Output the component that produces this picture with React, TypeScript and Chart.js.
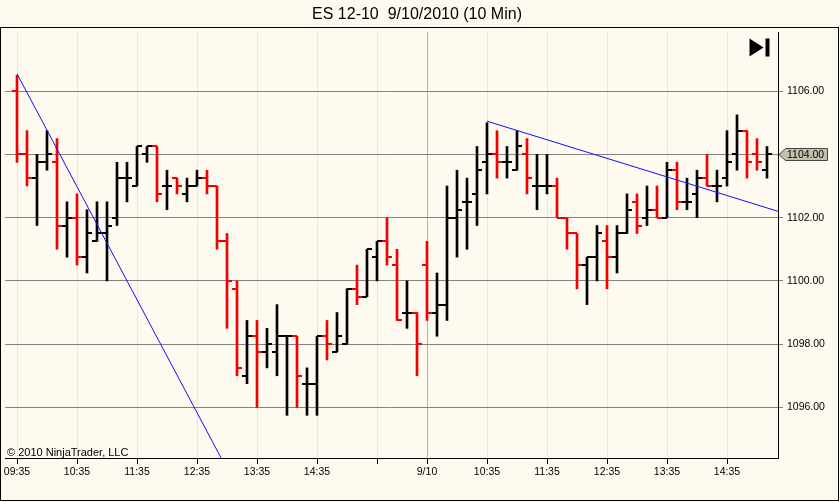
import Chart from 'chart.js/auto';
import { useEffect, useRef } from 'react';

// ES 12-10, 10 minute bars, 9/9 and 9/10/2010
const opens = [
  1106, 1104, 1103.25, 1103.75, 1103.75, 1101.75, 1102, 1100.75, 1101.25, 1101.5,
  1102, 1103.25, 1103, 1104, 1104.25, 1103, 1103.25, 1102.75, 1103, 1103.25,
  1103, 1101.25, 1099.75, 1097, 1098.25, 1097.75, 1097.75, 1098.25, 1098.25, 1096.75,
  1096.75, 1098.25, 1097.75, 1098, 1099.75, 1099.5, 1100.75, 1101.25, 1100.5, 1099,
  1099, 1100.5, 1099, 1099.25, 1102, 1102.5, 1102.75, 1103.75, 1104, 1103.75,
  1103.5, 1104, 1103, 1103, 1103, 1102, 1101.5, 1100.5, 1100.75, 1101.25,
  1100.75, 1101.5, 1102.5, 1102, 1102.25, 1102, 1103.5, 1102.5, 1102.75, 1103.25,
  1103, 1103.25, 1104, 1104.75, 1104, 1103.5,
];
const highs = [
  1106.5, 1104.75, 1104, 1104.75, 1104.5, 1102.5, 1102.75, 1102.25, 1102.5, 1102.5,
  1103.75, 1103.75, 1104.25, 1104.25, 1104.25, 1103.5, 1103.25, 1103.25, 1103.5, 1103.5,
  1103, 1101.5, 1100, 1098.75, 1098.75, 1098.5, 1099.25, 1098.25, 1098.25, 1097.25,
  1098.25, 1098.75, 1099, 1099.75, 1100.5, 1101, 1101.25, 1102, 1101, 1100,
  1099, 1101.25, 1100.25, 1103, 1103.5, 1103.25, 1104.25, 1105, 1104.75, 1104.25,
  1104.75, 1104.5, 1104, 1104, 1103.25, 1102, 1101.5, 1100.75, 1101.75, 1101.75,
  1101.75, 1102.75, 1102.75, 1103, 1103, 1103.75, 1103.75, 1103.25, 1103.5, 1104,
  1103.5, 1104.75, 1105.25, 1104.75, 1104.5, 1104.25,
];
const lows = [
  1103.75, 1103, 1101.75, 1103.5, 1101, 1100.75, 1100.5, 1100.25, 1101.25, 1100,
  1101.75, 1102.5, 1103, 1103.75, 1102.5, 1102.25, 1102.75, 1102.5, 1103, 1102.75,
  1101, 1098.5, 1097, 1096.75, 1096, 1097.25, 1097, 1095.75, 1096, 1095.75,
  1095.75, 1097.5, 1097.75, 1098, 1099.25, 1099.5, 1100, 1100.5, 1098.75, 1098.5,
  1097, 1098.75, 1098.25, 1098.75, 1100.75, 1101, 1101.75, 1102.75, 1103.25, 1103.25,
  1103.5, 1102.75, 1102.25, 1102.75, 1102, 1101, 1099.75, 1099.25, 1100, 1099.75,
  1100.25, 1101.5, 1101.5, 1101.75, 1102, 1102, 1102.25, 1102.25, 1102, 1103,
  1102.5, 1103, 1103.5, 1103.25, 1103.5, 1103.25,
];
const closes = [
  1104, 1103.25, 1103.75, 1104, 1101.75, 1102, 1100.75, 1101.5, 1101.5, 1101.75,
  1103.25, 1103.25, 1104.25, 1104.25, 1102.75, 1103, 1103, 1103, 1103.25, 1103,
  1101.25, 1100, 1097.25, 1098.25, 1097.75, 1098, 1098.25, 1098.25, 1097, 1096.75,
  1098.25, 1098, 1098.25, 1099.75, 1099.5, 1101, 1101.25, 1100.75, 1098.75, 1099,
  1098, 1099, 1099.25, 1102, 1102.25, 1102.5, 1103.5, 1104, 1103.75, 1103.75,
  1104.25, 1103.25, 1103, 1103, 1102, 1101.5, 1100.5, 1100.75, 1101.5, 1100.75,
  1101.5, 1102.25, 1101.75, 1102.25, 1102, 1103.5, 1102.5, 1102.5, 1103.25, 1103,
  1103, 1103.75, 1104.75, 1103.75, 1103.75, 1104,
];

const tickIndices = [0, 6, 12, 18, 24, 30, 36, 41, 47, 53, 59, 65, 71];
const tickLabels = ['09:35', '10:35', '11:35', '12:35', '13:35', '14:35', '', '9/10', '10:35', '11:35', '12:35', '13:35', '14:35'];
const priceTicks = [1096, 1098, 1100, 1102, 1104, 1106];
const sessionBreak = 41;

// drawn trend lines, anchors as [bar index, price]
const trendLineA = [{ x: 0, y: 1106.55 }, { x: 21, y: 1094.05 }];
const trendLineB = [{ x: 47, y: 1105.05 }, { x: 76.1, y: 1102.2 }];

const BG = '#fffaf0';
const UP = '#000000';
const DOWN = '#f00000';
const FONT = '"Liberation Sans", Arial, sans-serif';

function makeTick(color: string, side: 'left' | 'right') {
  const c = document.createElement('canvas');
  c.width = 10;
  c.height = 2;
  const g = c.getContext('2d')!;
  g.fillStyle = color;
  g.fillRect(side === 'left' ? 0 : 5, 0, 5, 2);
  return c;
}

const ninjaFrame = {
  id: 'ninjaFrame',
  beforeDraw(chart: Chart) {
    const { ctx, width, height } = chart;
    ctx.save();
    ctx.fillStyle = BG;
    ctx.fillRect(0, 0, width, height);
    ctx.fillStyle = '#000';
    ctx.font = `16px ${FONT}`;
    ctx.textAlign = 'center';
    ctx.textBaseline = 'alphabetic';
    ctx.fillText('ES 12-10  9/10/2010 (10 Min)', 417, 19);
    ctx.restore();
  },
  afterDraw(chart: Chart) {
    const { ctx } = chart;
    ctx.save();
    ctx.strokeStyle = '#000';
    ctx.lineWidth = 1;
    ctx.strokeRect(0.5, 27.5, 838, 473);

    ctx.fillStyle = '#000';
    ctx.font = `11px ${FONT}`;
    ctx.textAlign = 'left';
    ctx.textBaseline = 'middle';
    ctx.fillText('\u00a9 2010 NinjaTrader, LLC', 7, 452.5);

    // go-to-end button
    ctx.beginPath();
    ctx.moveTo(749.5, 38.5);
    ctx.lineTo(749.5, 56.5);
    ctx.lineTo(763.5, 47.5);
    ctx.closePath();
    ctx.fill();
    ctx.fillRect(765.5, 38.5, 4, 18);

    // last price marker
    const last = closes[closes.length - 1];
    const y = Math.round(chart.scales.y.getPixelForValue(last)) + 0.5;
    ctx.beginPath();
    ctx.moveTo(779, y);
    ctx.lineTo(785.5, y - 6);
    ctx.lineTo(827.5, y - 6);
    ctx.lineTo(827.5, y + 6);
    ctx.lineTo(785.5, y + 6);
    ctx.closePath();
    ctx.fillStyle = '#c4c0af';
    ctx.fill();
    ctx.strokeStyle = '#444';
    ctx.stroke();
    ctx.fillStyle = '#000';
    ctx.font = `10.5px ${FONT}`;
    ctx.fillText(last.toFixed(2), 787, y + 0.5);
    ctx.restore();
  },
};

export default function App() {
  const chartRef = useRef<HTMLCanvasElement | null>(null);

  useEffect(() => {
    if (!chartRef.current) return;
    const ctx = chartRef.current.getContext('2d');
    if (!ctx) return;

    const idx = opens.map((_, i) => i);
    const colors = idx.map((i) => (closes[i] < opens[i] ? DOWN : UP));
    const openRed = makeTick(DOWN, 'left');
    const openBlack = makeTick(UP, 'left');
    const closeRed = makeTick(DOWN, 'right');
    const closeBlack = makeTick(UP, 'right');

    const chart = new Chart(ctx, {
      type: 'bar',
      data: {
        datasets: [
          {
            type: 'line',
            data: trendLineA,
            borderColor: '#1010f0',
            borderWidth: 1,
            pointRadius: 0,
            order: 0,
          },
          {
            type: 'line',
            data: trendLineB,
            borderColor: '#1010f0',
            borderWidth: 1,
            pointRadius: 0,
            order: 0,
          },
          {
            type: 'scatter',
            data: idx.map((i) => ({ x: i, y: opens[i] })),
            pointStyle: (c: any) => (colors[c.dataIndex] === DOWN ? openRed : openBlack),
            pointRadius: 3,
            order: 1,
          },
          {
            type: 'scatter',
            data: idx.map((i) => ({ x: i, y: closes[i] })),
            pointStyle: (c: any) => (colors[c.dataIndex] === DOWN ? closeRed : closeBlack),
            pointRadius: 3,
            order: 1,
          },
          {
            type: 'bar',
            data: idx.map((i) => ({ x: i, y: [lows[i], highs[i]] })) as any,
            backgroundColor: colors,
            borderWidth: 0,
            barThickness: 2,
            order: 2,
          },
        ],
      },
      options: {
        animation: false,
        responsive: false,
        events: [],
        layout: { padding: { left: 5, top: 32, right: 0, bottom: 0 } },
        plugins: {
          legend: { display: false },
          tooltip: { enabled: false },
        },
        scales: {
          x: {
            type: 'linear',
            min: -1.2,
            max: 76.1,
            offset: false,
            afterBuildTicks: (s: any) => {
              s.ticks = tickIndices.map((v) => ({ value: v }));
            },
            afterFit: (s: any) => {
              s.height = 44;
            },
            ticks: {
              autoSkip: false,
              maxRotation: 0,
              padding: 2,
              color: '#000',
              font: { family: FONT, size: 10.5 },
              callback: (_v: any, i: number) => tickLabels[i],
            },
            grid: {
              offset: false,
              color: (c: any) => (c.tick && c.tick.value === sessionBreak ? '#b4b2ac' : '#ebe6d9'),
              tickColor: '#000',
              tickLength: 6,
            },
            border: { display: true, color: '#000', width: 1 },
          },
          y: {
            type: 'linear',
            position: 'right',
            min: 1094.4,
            max: 1107.87,
            afterBuildTicks: (s: any) => {
              s.ticks = priceTicks.map((v) => ({ value: v }));
            },
            afterFit: (s: any) => {
              s.width = 62;
            },
            ticks: {
              padding: 4,
              color: '#000',
              font: { family: FONT, size: 10.5 },
              callback: (v: any) => Number(v).toFixed(2),
            },
            grid: {
              color: '#858380',
              tickColor: '#858380',
              tickLength: 5,
            },
            border: { display: true, color: '#000', width: 1 },
          },
        },
      },
      plugins: [ninjaFrame],
    });

    return () => {
      chart.destroy();
    };
  }, []);

  return (
    <div style={{ position: 'absolute', left: 0, top: 0, width: 840, height: 502 }}>
      <canvas ref={chartRef} width={840} height={502}></canvas>
    </div>
  );
}
